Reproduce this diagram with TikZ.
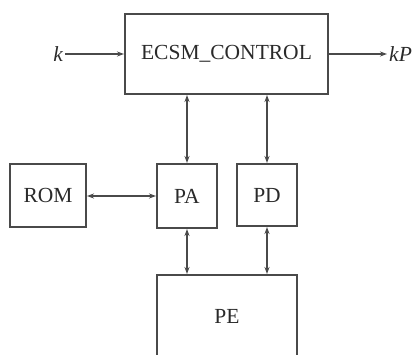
\documentclass[tikz,border=0pt]{standalone}
\usepackage{fontspec}
\setmainfont{Liberation Serif}
\usetikzlibrary{arrows.meta}
\definecolor{linegray}{HTML}{4A4A4A}
\definecolor{textgray}{HTML}{2A2A2A}
\begin{document}
\begin{tikzpicture}[x=1pt,y=-1pt,
  blk/.style={draw=linegray, line width=2pt, inner sep=0pt, text=textgray,
              font=\fontsize{21.5}{24}\selectfont},
  lbl/.style={inner sep=2pt, text=textgray, font=\fontsize{21.5}{24}\selectfont\itshape},
  conn/.style={draw=linegray, line width=2pt, -{Stealth[length=7pt,width=5pt]}},
  biconn/.style={draw=linegray, line width=2pt, {Stealth[length=7pt,width=5pt]}-{Stealth[length=7pt,width=5pt]}}]
  \useasboundingbox (0,0) rectangle (415,354);
  \clip (0,0) rectangle (415,354);

  % blocks
  \node[blk, minimum width=203pt, minimum height=80pt] (ecsm) at (226.5,54) {ECSM\_CONTROL};
  \node[blk, minimum width=76pt, minimum height=63pt] (rom) at (48,195.5) {ROM};
  \node[blk, minimum width=60pt, minimum height=64pt] (pa) at (187,196) {PA};
  \node[blk, minimum width=60pt, minimum height=62pt] (pd) at (267,195) {PD};
  \node[blk, minimum width=140pt, minimum height=82pt] (pe) at (227,316) {PE};

  % input and output
  \node[lbl, anchor=east] (k) at (65,54) {k};
  \node[lbl, anchor=west] (kp) at (387,54) {kP};

  % connectors
  \draw[conn] (k.east) -- (ecsm.west);
  \draw[conn] (ecsm.east) -- (kp.west);
  \draw[biconn] (ecsm.south -| pa.north) -- (pa.north);
  \draw[biconn] (ecsm.south -| pd.north) -- (pd.north);
  \draw[biconn] (rom.east |- pa.west) -- (pa.west);
  \draw[biconn] (pa.south) -- (pa.south |- pe.north);
  \draw[biconn] (pd.south) -- (pd.south |- pe.north);
\end{tikzpicture}
\end{document}
